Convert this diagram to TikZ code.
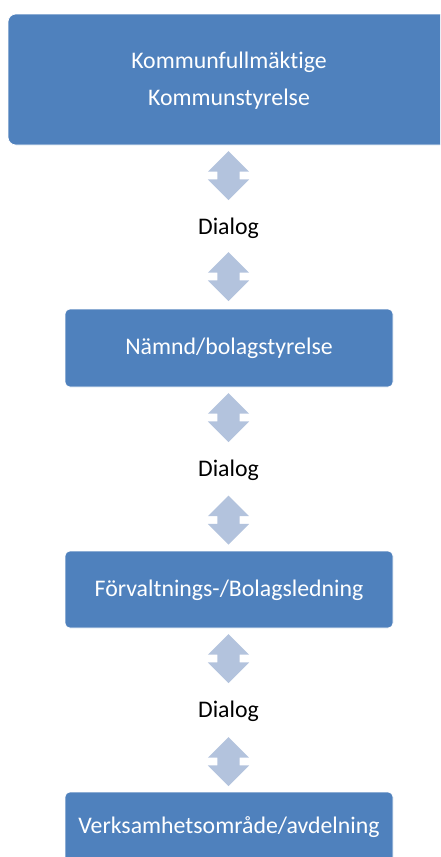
\documentclass[tikz,border=0pt]{standalone}
\usepackage{fontspec}
\setmainfont{Carlito}[Ligatures={NoCommon}]
\usetikzlibrary{shapes.arrows}
\definecolor{boxblue}{HTML}{4F81BD}
\definecolor{arrowblue}{HTML}{B3C3DD}
\begin{document}
\begin{tikzpicture}[x=1pt,y=-1pt,
  box/.style={fill=boxblue, draw=white, line width=0.6pt, inner sep=0pt},
  boxtext/.style={text=white, font=\fontsize{23.8}{28}\selectfont, inner sep=0pt, anchor=base},
  dlg/.style={text=black, font=\fontsize{23.8}{28}\selectfont, inner sep=0pt, anchor=base},
  darrow/.style={double arrow, fill=arrowblue, draw=none, rotate=90,
    minimum height=49pt, inner xsep=0pt, inner ysep=11pt,
    double arrow head extend=9.5pt, double arrow tip angle=90}]
\useasboundingbox (0,0) rectangle (440,857);
\clip (0,0) rectangle (440,857);
% boxes
\node[box, rounded corners=8pt, minimum width=442pt, minimum height=131pt] (b1) at (229,79.5) {};
\node[box, rounded corners=5pt, minimum width=328pt, minimum height=78pt] (b2) at (229,348) {};
\node[box, rounded corners=5pt, minimum width=328pt, minimum height=77pt] (b3) at (229,589.5) {};
\node[box, rounded corners=5pt, minimum width=328pt, minimum height=78pt] (b4) at (229,831) {};
% box texts
\node[boxtext] (t1a) at (229,68.3) {Kommunfullmäktige};
\node[boxtext] (t1b) at (229,105) {Kommunstyrelse};
\node[boxtext] (t2) at (229,354.3) {Nämnd/bolagstyrelse};
\node[boxtext] (t3) at (229,596.7) {Förvaltnings-/Bolagsledning};
\node[boxtext] (t4) at (229,833.3) {Verksamhetsområde/avdelning};
% dialog labels
\node[dlg] (d1) at (228.5,234) {Dialog};
\node[dlg] (d2) at (228.5,476.7) {Dialog};
\node[dlg] (d3) at (228.5,717.7) {Dialog};
% double arrows
\node[darrow] (a1) at (228.5,175.5) {};
\node[darrow] (a2) at (228.5,276.5) {};
\node[darrow] (a3) at (228.5,417.5) {};
\node[darrow] (a4) at (228.5,520) {};
\node[darrow] (a5) at (228.5,658.5) {};
\node[darrow] (a6) at (228.5,761.5) {};
\end{tikzpicture}
\end{document}
